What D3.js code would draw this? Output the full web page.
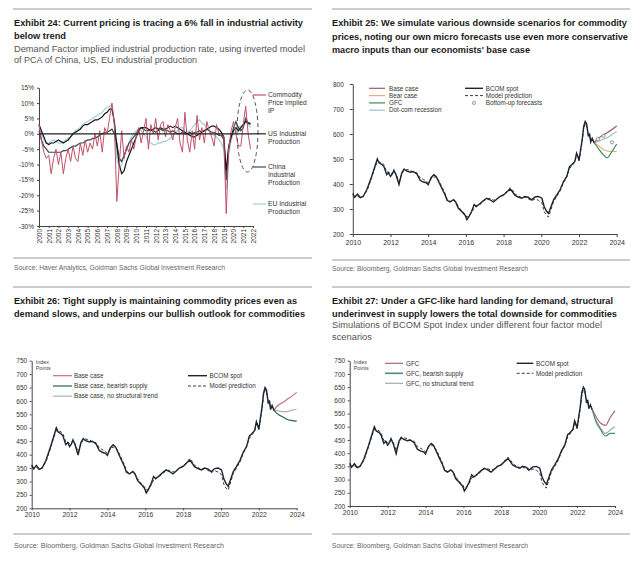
<!DOCTYPE html>
<html>
<head>
<meta charset="utf-8">
<script src="https://cdn.jsdelivr.net/npm/d3@7"></script>
<style>
  body { margin: 0; background: #fff; }
  svg { display: block; font-family: "Liberation Sans", Arial, sans-serif; }
  .title { font-family: "Liberation Sans Narrow", "Arial Narrow", "Liberation Sans", sans-serif; font-weight: bold; font-size: 11px; fill: #1a1a1a; }
  .sub { font-family: "Liberation Sans Narrow", "Arial Narrow", "Liberation Sans", sans-serif; font-size: 10px; fill: #555; }
  .src { font-size: 6.6px; fill: #666; }
  .axis text { font-size: 6.5px; fill: #333; font-family: "Liberation Sans", Arial, sans-serif; }
  .axis path, .axis line { stroke: #444; }
  .leg { font-size: 6.3px; fill: #333; }
  .idx { font-size: 5.4px; fill: #444; }
</style>
</head>
<body>
<svg id="chart" width="640" height="567"></svg>
<script>
  // ---- Exhibit 24: quarterly y/y %, 2000Q1 .. 2021Q4
  var ipStart = 2000;
  var ipYears = d3.range(2000, 2023);
  var ipTicks = [-30, -25, -20, -15, -10, -5, 0, 5, 10, 15];

  var commodityIP = [
    3, -2, -6, -8,     -7, -13, -8, -5,    -10, -6, -13, -8,   -5, -9, -4, -8,
    -9, -3, -7, -2,    -6, -3, -5, 0,      -4, 1, -6, 2,       0, 5, 10, 3,
    -22, -10, 1, -8,   -4, -6, -2, -5,     -1, 2, -3, 1,       5, -5, 3, 0,
    5, -2, 3, 4,       -1, 3, 1, -2,       2, 5, -3, -6,       7, -2, -6, 1,
    -5, 6, -2, 2,      -3, 4, 1, -1,       -4, 3, 0, -1,       -1, -26, -5, 1,
    4, 0, -4, -4,      3, 9, 0, -5
  ];
  var usIP = [
    3, 1, -1, -3,      -3.5, -3, -3, -2.5, -2, -2.5, -3, -2.5, -2, -1, 0, 0.5,
    1, 1.5, 2.5, 3,    3, 3.5, 4, 4.5,     4.5, 5, 5.5, 6.5,   7, 8, 8, 4,
    -4, -10, -13, -12, -9, -7, -5, -3,     -1, 1, 2, 2,        2, 1.5, 1, 1.5,
    2, 1.5, 2, 1.5,    1.5, 2, 2.5, 2,     2.5, 2, 1.5, 1,     0.5, 0, -0.5, -1,
    -1, -0.5, 0, 0.5,  1, 1.5, 2, 2.5,     2.5, 2, 1.5, 0.5,   -1, -12, -4, -1,
    1, 2, 1, 2,        3, 4, 3.5, 3.5
  ];
  var chinaIP = [
    1, -2, -4, -5,     -6, -6, -6, -6,     -6, -6, -5.5, -5.5, -5, -4.5, -4, -4,
    -3.5, -3, -3, -2.5, -2, -2, -1.5, -1.5, -1, -0.5, 0, 0.5,  0.5, 1, 1.5, 0,
    -3, -8, -9, -7,    -5, -3, -2, -1,     0, 1.5, 2, 1.5,     1, 1, 1.5, 1,
    0.5, 1, 1.5, 1,    1, 1, 0.5, 1,       0.5, 0, 0, 0.5,     0, 0, 0.5, 0,
    0.5, 0.5, 1, 0.5,  1, 1.5, 1, 0.5,     0.5, 0, -0.5, -0.5, -2, -15, -5, -1,
    2, 4, 2, 1,        2, 5, 3.5, 3
  ];
  var euIP = [
    3, 0, -2, -3,      -3, -2.5, -2, -2.5, -3, -3, -2.5, -2,   -1.5, -1, 0, 1,
    1.5, 2, 3, 3.5,    4, 4.5, 5, 5.5,     6, 6.5, 7, 8,       8.5, 9, 9.5, 2,
    -8, -11, -10, -7,  -5, -3, -1, 0,      1, 1.5, 1, 0,       -1, -2.5, -3, -3.5,
    -3.5, -3, -3, -2.5, -2.5, -2, -1.5, -0.5, 0.5, 1, 2, 2,    1, 0.5, 1, 2,
    3, 4, 4.5, 3.5,    3, 2, 1, 0,         -0.5, -1, -2, -3,   -5, -18, -7, -2,
    0, 1, 2, 2.5,      3, 4, 3, 2
  ];

  // ---- BCOM spot and model prediction (shared by exhibits 25-27)
  var bcomYears = [2010, 2012, 2014, 2016, 2018, 2020, 2022, 2024];
  var bcomDates = [
    2010.00, 2010.10, 2010.25, 2010.40, 2010.55, 2010.75,
    2011.00, 2011.15, 2011.30, 2011.40, 2011.55, 2011.65, 2011.80, 2011.90,
    2012.00, 2012.10, 2012.18, 2012.30, 2012.45, 2012.60, 2012.72, 2012.85,
    2013.05, 2013.20, 2013.40, 2013.57, 2013.75, 2013.90,
    2014.00, 2014.15, 2014.30, 2014.42, 2014.55, 2014.72, 2014.90,
    2015.00, 2015.16, 2015.34, 2015.45, 2015.60, 2015.78, 2015.96,
    2016.05, 2016.15, 2016.30, 2016.44, 2016.55, 2016.75, 2016.92,
    2017.10, 2017.28, 2017.46, 2017.62, 2017.80,
    2018.00, 2018.17, 2018.35, 2018.48, 2018.60, 2018.78, 2018.97,
    2019.12, 2019.30, 2019.48, 2019.67, 2019.85,
    2020.03, 2020.15, 2020.27, 2020.38, 2020.48, 2020.65, 2020.82,
    2021.00, 2021.18, 2021.35, 2021.50, 2021.62, 2021.78, 2021.87, 2021.95, 2022.00,
    2022.08, 2022.17, 2022.25, 2022.33, 2022.40, 2022.50, 2022.56, 2022.62, 2022.70, 2022.80
  ];
  var bcomSpot = [
    362, 347, 360, 345, 350, 378,
    430, 465, 500, 484, 478, 470, 437, 445,
    430, 440, 455, 435, 398, 445, 460, 452,
    447, 450, 440, 415, 408, 405,
    397, 425, 437, 430, 410, 383, 356,
    335, 328, 337, 329, 303, 290, 275,
    257, 268, 290, 318, 310, 322, 333,
    343, 337, 328, 338, 350,
    356, 368, 380, 368, 355, 348, 343,
    350, 347, 337, 348, 350,
    343, 310, 292, 282, 302, 337, 356,
    378, 410, 430, 470, 477, 490, 523, 508, 493,
    535, 578, 630, 650, 642, 590, 602, 568, 583, 565
  ];
  var bcomModel = [
    355, 350, 352, 345, 352, 372,
    425, 460, 490, 488, 485, 478, 448, 448,
    440, 445, 452, 440, 410, 440, 455, 458,
    455, 448, 445, 425, 418, 412,
    405, 420, 428, 428, 415, 390, 362,
    340, 330, 335, 330, 310, 292, 280,
    268, 272, 285, 305, 312, 318, 330,
    340, 342, 335, 340, 350,
    358, 370, 385, 375, 360, 352, 345,
    348, 342, 333, 340, 335,
    325, 290, 275, 268, 290, 330, 350,
    372, 405, 428, 462, 472, 488, 515, 505, 495,
    528, 570, 620, 640, 635, 592, 598, 572, 578, 563
  ];

  // ---- scenario paths
  var fcDates = [2022.8, 2023.0, 2023.25, 2023.5, 2023.75, 2024.0];

  var ex25Base   = [565, 580, 595, 605, 618, 632];
  var ex25Bear   = [565, 555, 540, 532, 530, 530];
  var ex25Gfc    = [565, 545, 520, 505, 530, 560];
  var ex25DotCom = [565, 570, 578, 585, 598, 610];
  var bottomUpDates  = [2023.0, 2023.3, 2023.75];
  var bottomUpValues = [580, 592, 567];

  var ex26Base      = [565, 583, 594, 606, 618, 632];
  var ex26Bearish   = [565, 551, 541, 531, 527, 525];
  var ex26NoTrend   = [565, 564, 560, 560, 566, 569];

  var ex27Gfc       = [565, 538, 513, 505, 535, 561];
  var ex27Bearish   = [565, 519, 488, 465, 475, 475];
  var ex27NoTrend   = [565, 525, 494, 475, 488, 500];

  var svg = d3.select("#chart");

  // text fitted to a measured width: shrink the font if too wide, then stretch to fit
  function txt(x, y, s, cls, w) {
    var t = svg.append("text").attr("x", x).attr("y", y).attr("class", cls).text(s);
    if (w) {
      var len = t.node().getComputedTextLength();
      if (len > w) {
        var fs = parseFloat(window.getComputedStyle(t.node()).fontSize);
        t.style("font-size", (fs * w / len * 0.995) + "px");
      }
      t.attr("textLength", w).attr("lengthAdjust", "spacingAndGlyphs");
    }
    return t;
  }
  function rule(x1, x2, y) {
    svg.append("line").attr("x1", x1).attr("x2", x2).attr("y1", y).attr("y2", y)
      .attr("stroke", "#9a9a9a").attr("stroke-width", 1);
  }

  // ================= Exhibit 24 =================
  rule(13, 312, 9);
  txt(14, 26, "Exhibit 24: Current pricing is tracing a 6% fall in industrial activity", "title", 289);
  txt(14, 38.5, "below trend", "title", 52);
  txt(14, 51.5, "Demand Factor implied industrial production rate, using inverted model", "sub", 291);
  txt(14, 63, "of PCA of China, US, EU industrial production", "sub", 183);

  var x24 = d3.scaleLinear().domain([2000, 2022]).range([39, 253]);
  var y24 = d3.scaleLinear().domain([-30, 15]).range([226, 87.7]);

  svg.append("g").attr("class", "axis").attr("transform", "translate(39,0)")
    .call(d3.axisLeft(y24).tickValues(ipTicks).tickFormat(function (d) { return d + "%"; })
      .tickSize(2).tickSizeOuter(0).tickPadding(3));

  var xa24 = svg.append("g").attr("class", "axis").attr("transform", "translate(0,226)")
    .call(d3.axisBottom(x24).tickValues(ipYears).tickFormat(d3.format("d"))
      .tickSize(2).tickSizeOuter(0));
  xa24.selectAll("text")
    .attr("transform", "rotate(-90)")
    .attr("text-anchor", "end")
    .attr("x", -3).attr("y", 0).attr("dy", "0.35em");

  var ipLine = d3.line()
    .x(function (d, i) { return x24(ipStart + i / 4); })
    .y(function (d) { return y24(d); });

  svg.append("path").attr("d", ipLine(euIP)).attr("fill", "none")
    .attr("stroke", "#a9cfe0").attr("stroke-width", 1.3);
  svg.append("path").attr("d", ipLine(chinaIP)).attr("fill", "none")
    .attr("stroke", "#2c4f50").attr("stroke-width", 1.2);
  svg.append("path").attr("d", ipLine(usIP)).attr("fill", "none")
    .attr("stroke", "#151515").attr("stroke-width", 1.2);
  svg.append("path").attr("d", ipLine(commodityIP)).attr("fill", "none")
    .attr("stroke", "#c4506a").attr("stroke-width", 1);

  // zero line
  svg.append("line").attr("x1", 39).attr("x2", 253).attr("y1", y24(0)).attr("y2", y24(0))
    .attr("stroke", "#222").attr("stroke-width", 1.2);

  // dashed highlight ellipse
  svg.append("ellipse").attr("cx", 247.5).attr("cy", 131).attr("rx", 10.5).attr("ry", 41)
    .attr("fill", "none").attr("stroke", "#555").attr("stroke-width", 1)
    .attr("stroke-dasharray", "4,3");

  var leg24 = [
    { y: 95, color: "#c4506a", lines: ["Commodity", "Price Implied", "IP"] },
    { y: y24(0), color: "#222", lines: ["US Industrial", "Production"] },
    { y: 167, color: "#2c4f50", lines: ["China", "Industrial", "Production"] },
    { y: 204, color: "#a9cfe0", lines: ["EU Industrial", "Production"] }
  ];
  leg24.forEach(function (l) {
    svg.append("line").attr("x1", 253).attr("x2", 266).attr("y1", l.y).attr("y2", l.y)
      .attr("stroke", l.color).attr("stroke-width", 1.2);
    l.lines.forEach(function (s, k) {
      svg.append("text").attr("x", 268).attr("y", l.y + 2.3 + k * 7.6)
        .attr("class", "leg").style("font-size", "6.7px").text(s);
    });
  });

  rule(13, 312, 258);
  txt(14, 270, "Source: Haver Analytics, Goldman Sachs Global Investment Research", "src", 211);

  // ================= BCOM panels =================
  function bcomPanel(p) {
    var x = d3.scaleLinear().domain([2010, 2024]).range([p.left, p.right]);
    var y = d3.scaleLinear().domain(p.yDomain).range([p.bottom, p.top]);
    var g = svg.append("g");

    g.append("g").attr("class", "axis").attr("transform", "translate(" + p.left + ",0)")
      .call(d3.axisLeft(y).tickValues(p.yTicks).tickSize(p.tick).tickSizeOuter(0).tickPadding(p.yPad));
    var xa = g.append("g").attr("class", "axis").attr("transform", "translate(0," + p.bottom + ")")
      .call(d3.axisBottom(x).tickValues(bcomYears).tickFormat(d3.format("d"))
        .tickSize(p.tick).tickSizeOuter(0).tickPadding(p.xPad));
    xa.selectAll("text").style("font-size", p.xFont + "px");

    var fc = d3.line().curve(d3.curveMonotoneX)
      .x(function (d, i) { return x(fcDates[i]); })
      .y(function (d) { return y(d); });
    p.scen.forEach(function (s) {
      g.append("path").attr("d", fc(s.values)).attr("fill", "none")
        .attr("stroke", s.color).attr("stroke-width", 1.2);
    });

    if (p.bottomUp) {
      bottomUpDates.forEach(function (d, i) {
        g.append("circle").attr("cx", x(d)).attr("cy", y(bottomUpValues[i])).attr("r", 1.7)
          .attr("fill", "#e6e6e6").attr("stroke", "#8a8a8a").attr("stroke-width", 0.7);
      });
    }

    var hist = d3.line()
      .x(function (d, i) { return x(bcomDates[i]); })
      .y(function (d) { return y(d); });
    g.append("path").attr("d", hist(bcomModel)).attr("fill", "none")
      .attr("stroke", "#3a3a3a").attr("stroke-width", 1).attr("stroke-dasharray", "3,2");
    g.append("path").attr("d", hist(bcomSpot)).attr("fill", "none")
      .attr("stroke", "#1b2530").attr("stroke-width", 1.4);

    if (p.index) {
      g.append("text").attr("class", "idx").attr("x", p.left + 4).attr("y", p.top + 3).text("Index");
      g.append("text").attr("class", "idx").attr("x", p.left + 4).attr("y", p.top + 9).text("Points");
    }

    p.legend.forEach(function (l) {
      if (l.marker) {
        g.append("circle").attr("cx", (l.x1 + l.x2) / 2).attr("cy", l.y).attr("r", 1.7)
          .attr("fill", "#e6e6e6").attr("stroke", "#8a8a8a").attr("stroke-width", 0.7);
      } else {
        var ln = g.append("line").attr("x1", l.x1).attr("x2", l.x2).attr("y1", l.y).attr("y2", l.y)
          .attr("stroke", l.color).attr("stroke-width", l.w || 1.2);
        if (l.dash) ln.attr("stroke-dasharray", "3,2");
      }
      g.append("text").attr("class", "leg").attr("x", l.tx).attr("y", l.y).attr("dy", "0.35em").text(l.name);
    });
  }

  // ---- Exhibit 25
  rule(332, 630, 9);
  txt(332, 26, "Exhibit 25: We simulate various downside scenarios for commodity", "title", 295);
  txt(332, 39.5, "prices, noting our own micro forecasts use even more conservative", "title", 296);
  txt(332, 52.5, "macro inputs than our economists' base case", "title", 198);

  bcomPanel({
    left: 352.8, right: 616.7, top: 84, bottom: 234,
    yDomain: [200, 800], yTicks: [200, 300, 400, 500, 600, 700, 800],
    tick: 3, yPad: 6, xPad: 3, xFont: 7,
    scen: [
      { values: ex25Bear, color: "#e9a98c" },
      { values: ex25Gfc, color: "#3f8c50" },
      { values: ex25DotCom, color: "#a3bcd0" },
      { values: ex25Base, color: "#9a5a62" }
    ],
    bottomUp: true,
    legend: [
      { name: "Base case", color: "#9a5a62", x1: 369, x2: 385, tx: 389, y: 88.3 },
      { name: "Bear case", color: "#e9a98c", x1: 369, x2: 385, tx: 389, y: 95.6 },
      { name: "GFC", color: "#3f8c50", x1: 369, x2: 385, tx: 389, y: 102.9 },
      { name: "Dot-com recession", color: "#a3bcd0", x1: 369, x2: 385, tx: 389, y: 110.2 },
      { name: "BCOM spot", color: "#1b2530", x1: 465, x2: 483, tx: 485.7, y: 88.3, w: 1.4 },
      { name: "Model prediction", color: "#3a3a3a", x1: 465, x2: 483, tx: 485.7, y: 95.6, dash: true, w: 1 },
      { name: "Bottom-up forecasts", color: "#8a8a8a", x1: 465, x2: 483, tx: 485.7, y: 102.9, marker: true }
    ]
  });

  rule(332, 630, 260);
  txt(332, 271, "Source: Bloomberg, Goldman Sachs Global Investment Research", "src", 196);

  // ---- Exhibit 26
  rule(13, 312, 287);
  txt(14, 303.5, "Exhibit 26: Tight supply is maintaining commodity prices even as", "title", 283);
  txt(14, 316.5, "demand slows, and underpins our bullish outlook for commodities", "title", 291);

  bcomPanel({
    left: 31.7, right: 296.7, top: 360.7, bottom: 508.3,
    yDomain: [200, 750], yTicks: [200, 250, 300, 350, 400, 450, 500, 550, 600, 650, 700, 750],
    tick: 2, yPad: 2.5, xPad: 2, xFont: 6.8, index: true,
    scen: [
      { values: ex26NoTrend, color: "#aab4b4" },
      { values: ex26Bearish, color: "#2e5d5d" },
      { values: ex26Base, color: "#c2737e" }
    ],
    legend: [
      { name: "Base case", color: "#c2737e", x1: 53, x2: 72, tx: 74, y: 375.7 },
      { name: "Base case, bearish supply", color: "#2e5d5d", x1: 53, x2: 72, tx: 74, y: 386 },
      { name: "Base case, no structural trend", color: "#aab4b4", x1: 53, x2: 72, tx: 74, y: 396.2 },
      { name: "BCOM spot", color: "#1b2530", x1: 188, x2: 207, tx: 209.5, y: 375.7, w: 1.4 },
      { name: "Model prediction", color: "#3a3a3a", x1: 188, x2: 207, tx: 209.5, y: 386, dash: true, w: 1 }
    ]
  });

  rule(13, 312, 534);
  txt(14, 548, "Source: Bloomberg, Goldman Sachs Global Investment Research", "src", 210);

  // ---- Exhibit 27
  rule(332, 630, 287);
  txt(332, 303.5, "Exhibit 27: Under a GFC-like hard landing for demand, structural", "title", 281);
  txt(332, 316.5, "underinvest in supply lowers the total downside for commodities", "title", 285);
  txt(332, 328, "Simulations of BCOM Spot Index under different four factor model", "sub", 270);
  txt(332, 340, "scenarios", "sub", 40);

  bcomPanel({
    left: 349.7, right: 615, top: 360.7, bottom: 506,
    yDomain: [200, 750], yTicks: [200, 250, 300, 350, 400, 450, 500, 550, 600, 650, 700, 750],
    tick: 2, yPad: 2.5, xPad: 2, xFont: 6.8, index: true,
    scen: [
      { values: ex27NoTrend, color: "#a4acac" },
      { values: ex27Bearish, color: "#4a8a78" },
      { values: ex27Gfc, color: "#a56b6b" }
    ],
    legend: [
      { name: "GFC", color: "#a56b6b", x1: 385, x2: 403, tx: 406, y: 363.3 },
      { name: "GFC, bearish supply", color: "#4a8a78", x1: 385, x2: 403, tx: 406, y: 373.3, w: 1.6 },
      { name: "GFC, no structural trend", color: "#a4acac", x1: 385, x2: 403, tx: 406, y: 383.3 },
      { name: "BCOM spot", color: "#1b2530", x1: 516.7, x2: 533.3, tx: 536, y: 363.3, w: 1.4 },
      { name: "Model prediction", color: "#3a3a3a", x1: 516.7, x2: 533.3, tx: 536, y: 373.3, dash: true, w: 1 }
    ]
  });

  rule(332, 630, 534);
  txt(332, 548, "Source: Bloomberg, Goldman Sachs Global Investment Research", "src", 196);
</script>
</body>
</html>
